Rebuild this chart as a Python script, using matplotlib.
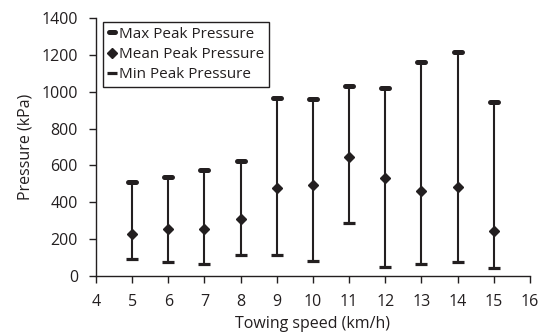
import matplotlib

matplotlib.use("Agg")

import matplotlib.pyplot as plt
from matplotlib.markers import MarkerStyle
from matplotlib.lines import Line2D

# towing speed (km/h) and peak pressure statistics (kPa)
speeds = [5, 6, 7, 8, 9, 10, 11, 12, 13, 14, 15]
max_peak = [512, 540, 575, 622, 965, 962, 1030, 1022, 1160, 1218, 942]
mean_peak = [227, 253, 257, 310, 478, 495, 644, 534, 464, 484, 247]
min_peak = [92, 74, 67, 112, 112, 81, 287, 49, 63, 76, 43]

x_ticks = list(range(4, 17))
y_ticks = list(range(0, 1401, 200))

plt.rcParams["font.family"] = ["Open Sans", "DejaVu Sans"]
ink = "#231f20"

fig = plt.figure(figsize=(5.5, 3.35), dpi=100)
ax = fig.add_axes([0.1745, 0.176, 0.789, 0.770])

ax.vlines(speeds, min_peak, max_peak, color=ink, linewidth=1.5, zorder=2)

max_marker = MarkerStyle("_", capstyle="round")
min_marker = MarkerStyle("_", capstyle="butt")
ax.plot(speeds, max_peak, linestyle="none", marker=max_marker, markersize=6,
        markeredgewidth=3.6, color=ink, zorder=3)
ax.plot(speeds, min_peak, linestyle="none", marker=min_marker, markersize=9,
        markeredgewidth=2.3, color=ink, zorder=3)
ax.plot(speeds, mean_peak, linestyle="none", marker="D", markersize=5.5,
        color=ink, zorder=4)

ax.set_xlim(4, 16)
ax.set_ylim(0, 1400)
ax.set_xticks(x_ticks)
ax.set_yticks(y_ticks)
ax.tick_params(axis="both", direction="out", length=5, width=1, color=ink,
               labelsize=11.5, labelcolor=ink)
ax.tick_params(axis="x", pad=8)
ax.tick_params(axis="y", pad=8)
for side in ("top", "right"):
    ax.spines[side].set_visible(False)
for side in ("left", "bottom"):
    ax.spines[side].set_color(ink)
    ax.spines[side].set_linewidth(1)

ax.set_xlabel("Towing speed (km/h)", fontsize=11.5, color=ink, labelpad=4)
ax.set_ylabel("Pressure (kPa)", fontsize=11.5, color=ink, labelpad=6)

handles = [
    Line2D([], [], linestyle="none", marker=max_marker, markersize=5,
           markeredgewidth=3.6, color=ink),
    Line2D([], [], linestyle="none", marker="D", markersize=5.5, color=ink),
    Line2D([], [], linestyle="none", marker=min_marker, markersize=7,
           markeredgewidth=2.3, color=ink),
]
labels = ["Max Peak Pressure", "Mean Peak Pressure", "Min Peak Pressure"]
leg = ax.legend(handles, labels, loc="upper left", bbox_to_anchor=(0.016, 0.985),
                borderaxespad=0, fontsize=11, handlelength=0.6, handletextpad=0.15,
                labelspacing=0.35, borderpad=0.3, fancybox=False, framealpha=1,
                edgecolor=ink)
leg.get_frame().set_linewidth(1)
for t in leg.get_texts():
    t.set_color(ink)

fig.savefig("out.png", dpi=100)
